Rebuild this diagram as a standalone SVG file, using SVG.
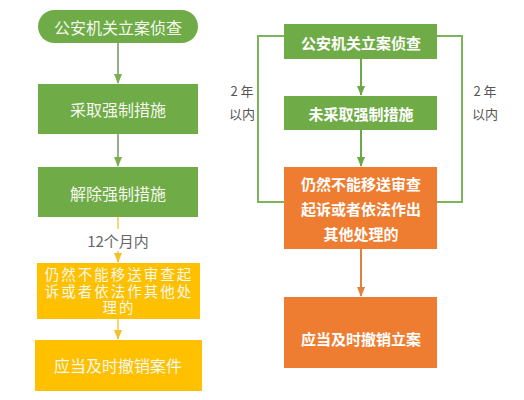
<svg xmlns="http://www.w3.org/2000/svg" width="524" height="400" viewBox="0 0 524 400">
<defs>
<style>
.g{fill:#6FAB46}
.y{fill:#FFC000}
.o{fill:#EE7D31}
.tl{font-family:"Noto Sans CJK SC","Noto Sans",sans-serif;font-size:16px;fill:#F4F8EE;text-anchor:middle;dominant-baseline:central}
.ts{font-family:"Liberation Sans","Noto Sans CJK SC",sans-serif;font-size:14.5px;letter-spacing:2px;fill:#F4F8EE;text-anchor:middle;dominant-baseline:central}
.tr{font-family:"Noto Sans CJK SC","Noto Sans",sans-serif;font-size:15px;font-weight:bold;fill:#FFFFFF;text-anchor:middle;dominant-baseline:central}
.lb{font-family:"Noto Sans CJK SC","Noto Sans",sans-serif;font-size:13px;fill:#555555;text-anchor:middle;dominant-baseline:central}
.lm{font-family:"Noto Sans CJK SC","Noto Sans",sans-serif;font-size:15px;fill:#666666;text-anchor:middle;dominant-baseline:central}
.cg{stroke:#9AAE8A;stroke-width:2;fill:none}
.cy{stroke:#F3D77A;stroke-width:2;fill:none}
.cgr{stroke:#6FA84A;stroke-width:2;fill:none}
.co{stroke:#E0823D;stroke-width:2;fill:none}
.br{stroke:#7DB35A;stroke-width:2;fill:none}
</style>
<marker id="ag" markerWidth="10" markerHeight="8" refX="9" refY="4" orient="auto" markerUnits="userSpaceOnUse"><path d="M0,0 L10,4 L0,8 Z" fill="#79AE52"/></marker>
<marker id="ay" markerWidth="10" markerHeight="8" refX="9" refY="4" orient="auto" markerUnits="userSpaceOnUse"><path d="M0,0 L10,4 L0,8 Z" fill="#F2C22E"/></marker>
<marker id="agr" markerWidth="10" markerHeight="8" refX="9" refY="4" orient="auto" markerUnits="userSpaceOnUse"><path d="M0,0 L10,4 L0,8 Z" fill="#6FA84A"/></marker>
<marker id="ao" markerWidth="10" markerHeight="8" refX="9" refY="4" orient="auto" markerUnits="userSpaceOnUse"><path d="M0,0 L10,4 L0,8 Z" fill="#E0823D"/></marker>
</defs>
<rect width="524" height="400" fill="#FFFFFF"/>
<g id="connectors">
<line class="cg" x1="118" y1="43" x2="118" y2="83" marker-end="url(#ag)"/>
<line class="cg" x1="118" y1="134" x2="118" y2="166" marker-end="url(#ag)"/>
<line class="cy" x1="118" y1="217" x2="118" y2="229"/>
<line class="cy" x1="118" y1="251" x2="118" y2="262" marker-end="url(#ay)"/>
<line class="cy" x1="118" y1="319" x2="118" y2="339" marker-end="url(#ay)"/>
<line class="cgr" x1="361" y1="59" x2="361" y2="95" marker-end="url(#agr)"/>
<line class="cgr" x1="361" y1="130" x2="361" y2="166" marker-end="url(#agr)"/>
<line class="co" x1="361" y1="249" x2="361" y2="296" marker-end="url(#ao)"/>
<polyline class="br" points="284,36 258,36 258,202 284,202"/>
<polyline class="br" points="437,36 462,36 462,202 437,202"/>
<text class="lm" x="118" y="240">12个月内</text>
<text class="lb" x="242" y="90">2 年</text>
<text class="lb" x="242" y="113">以内</text>
<text class="lb" x="485" y="90">2 年</text>
<text class="lb" x="485" y="113">以内</text>
</g>
<g id="l1"><rect class="g" x="38" y="10" width="160" height="33" rx="16.5"/><text class="tl" x="118" y="27">公安机关立案侦查</text></g>
<g id="l2"><rect class="g" x="38" y="84" width="160" height="50"/><text class="tl" x="118" y="109">采取强制措施</text></g>
<g id="l3"><rect class="g" x="38" y="167" width="160" height="50"/><text class="tl" x="118" y="193">解除强制措施</text></g>
<g id="l4"><rect class="y" x="37" y="263" width="163" height="56"/><text class="ts" x="119" y="275">仍然不能移送审查起</text><text class="ts" x="119" y="291.5">诉或者依法作其他处</text><text class="ts" x="119" y="308">理的</text></g>
<g id="l5"><rect class="y" x="35" y="340" width="167" height="51"/><text class="tl" x="118" y="365">应当及时撤销案件</text></g>
<g id="r1"><rect class="g" x="284" y="24" width="153" height="35"/><text class="tr" x="361" y="42">公安机关立案侦查</text></g>
<g id="r2"><rect class="g" x="284" y="96" width="153" height="34"/><text class="tr" x="361" y="113">未采取强制措施</text></g>
<g id="r3"><rect class="o" x="284" y="167" width="153" height="82"/><text class="tr" x="361" y="183">仍然不能移送审查</text><text class="tr" x="361" y="208">起诉或者依法作出</text><text class="tr" x="361" y="233">其他处理的</text></g>
<g id="r4"><rect class="o" x="284" y="297" width="153" height="71"/><text class="tr" x="361" y="338">应当及时撤销立案</text></g>
</svg>
